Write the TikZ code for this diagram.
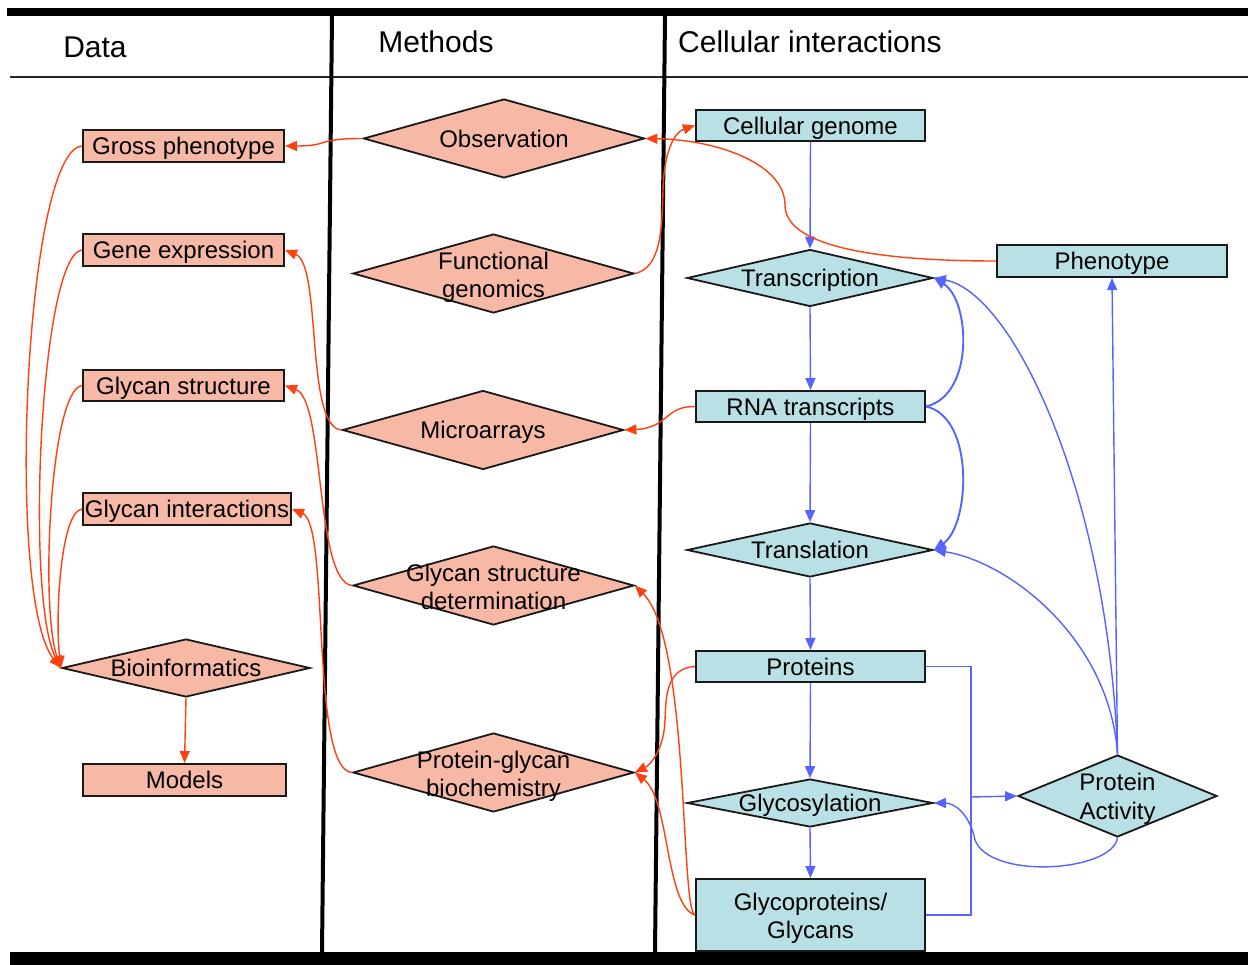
\documentclass[tikz,border=0pt]{standalone}
\usepackage{fontspec}
\setmainfont{Liberation Sans}
\usetikzlibrary{arrows.meta,shapes.geometric}
\definecolor{pinkfill}{RGB}{247,185,166}
\definecolor{bluefill}{RGB}{185,224,228}
\definecolor{redline}{RGB}{255,64,16}
\definecolor{blueline}{RGB}{85,100,255}
\definecolor{edge}{RGB}{25,25,25}
\begin{document}
\begin{tikzpicture}[x=1pt,y=-1pt,
  every node/.style={font=\fontsize{24}{28.5}\selectfont},
  hdr/.style={font=\fontsize{30}{36}\selectfont, inner sep=0pt},
  fixt/.style={text height=20.5pt, text depth=3pt},
  box/.style={rectangle, draw=edge, line width=2pt, inner sep=0pt, minimum height=32, fixt},
  pinkbox/.style={box, fill=pinkfill},
  bluebox/.style={box, fill=bluefill},
  dia/.style={diamond, draw=edge, line width=1.8pt, inner sep=0pt},
  pinkdia/.style={dia, fill=pinkfill, minimum width=281, minimum height=79},
  bluedia/.style={dia, fill=bluefill},
  tip/.style={-{Triangle[length=12pt,width=10pt]}},
  redarr/.style={draw=redline, line width=1.4pt, tip},
  bluearr/.style={draw=blueline, line width=1.4pt, tip},
  bluethick/.style={draw=blueline, line width=1.9pt, tip},
  blueplain/.style={draw=blueline, line width=1.4pt},
  sep/.style={line width=4pt, draw=black}
]
\useasboundingbox (0,0) rectangle (1248,965);
\fill[white] (0,0) rectangle (1248,965);

% frame
\fill[black] (7,8) rectangle (1248,16);
\fill[black] (10,952) rectangle (1248,965);
\draw[line width=2.5pt, draw=black!85] (10,77) -- (1248,77);
\draw[sep] (332,16) -- (322,952);
\draw[sep] (665,16) -- (655,952);

% headers
\node[hdr] (hdata) at (95,47) {Data};
\node[hdr] (hmeth) at (436,42) {Methods};
\node[hdr, anchor=west] (hcell) at (678,42) {Cellular interactions};

% data column
\node[pinkbox, minimum width=201] (gross) at (183.5,146) {Gross phenotype};
\node[pinkbox, minimum width=201] (geneexp) at (183.5,250) {Gene expression};
\node[pinkbox, minimum width=201, minimum height=31] (glystruct) at (183.5,385.5) {Glycan structure};
\node[pinkbox, minimum width=208] (glyint) at (187,509) {Glycan interactions};
\node[dia, fill=pinkfill, minimum width=248, minimum height=58,
      label={[fixt]center:Bioinformatics}] (bioinf) at (186,668) {};
\node[pinkbox, minimum width=203] (models) at (184.5,780) {Models};

% methods column
\node[pinkdia, label={[fixt]center:Observation}] (obs) at (504,138.5) {};
\node[pinkdia, label={[align=center, yshift=-4pt]center:Functional\\genomics}] (funcgen) at (493.5,273.5) {};
\node[pinkdia, label={[fixt]center:Microarrays}] (micro) at (483,430) {};
\node[pinkdia, label={[align=center, yshift=-1.5pt]center:Glycan structure\\determination}] (gsd) at (493.5,585.5) {};
\node[pinkdia, label={[align=center, yshift=-4pt]center:Protein-glycan\\biochemistry}] (pgb) at (493.5,772.5) {};

% cellular column
\node[bluebox, minimum width=229, minimum height=31] (genome) at (810.5,125.5) {Cellular genome};
\node[bluedia, minimum width=246, minimum height=57,
      label={[fixt]center:Transcription}] (transc) at (810,278) {};
\node[bluebox, minimum width=230] (pheno) at (1112,261) {Phenotype};
\node[bluebox, minimum width=229, minimum height=31] (rna) at (810.5,406.5) {RNA transcripts};
\node[bluedia, minimum width=246, minimum height=54,
      label={[fixt]center:Translation}] (transl) at (810,550) {};
\node[bluebox, minimum width=229, minimum height=31] (prot) at (810.5,666.5) {Proteins};
\node[bluedia, minimum width=246, minimum height=48,
      label={[fixt]center:Glycosylation}] (glycos) at (810,803) {};
\node[rectangle, draw=edge, line width=2pt, fill=bluefill, inner sep=0pt,
      minimum width=229, minimum height=72,
      label={[align=center, yshift=-3.5pt]center:Glycoproteins/\\Glycans}] (glycop) at (810.5,915) {};
\node[bluedia, minimum width=199, minimum height=82,
      label={[align=center, yshift=-3pt]center:Protein\\Activity}] (pa) at (1117.5,796) {};

% blue connectors
\draw[bluearr] (genome.south) -- (transc.north);
\draw[bluearr] (transc.south) -- (rna.north);
\draw[bluearr] (rna.south) -- (transl.north);
\draw[bluearr] (transl.south) -- (prot.north);
\draw[bluearr] (prot.south) -- (glycos.north);
\draw[bluearr] (glycos.south) -- (glycop.north);
\draw[bluearr] (pa.north) -- (pheno.south);
\draw[bluethick] (rna.east) .. controls (975,395) and (970,300) .. (transc.east);
\draw[bluethick] (rna.east) .. controls (975,417) and (970,525) .. (transl.east);
\draw[bluearr] (pa.north) .. controls (1108,490) and (1012,292) .. (transc.east);
\draw[bluearr] (pa.north) .. controls (1110,640) and (1010,562) .. (transl.east);
\draw[bluearr] (pa.south) .. controls (1112,872) and (990,880) .. (975,840)
                          .. controls (970,815) and (955,803) .. (glycos.east);
\coordinate (j) at (971,797);
\draw[blueplain] (prot.east) -| (j);
\draw[blueplain] (glycop.east) -| (j);
\draw[bluearr] (j) -- (pa.west);

% red connectors
\draw[redarr] (obs.west) .. controls (315,138.5) and (330,146) .. (gross.east);
\draw[redarr] (pheno.west) .. controls (870,261) and (785,245) .. (785,205)
                           .. controls (785,165) and (720,140) .. (obs.east);
\draw[redarr] (funcgen.east) .. controls (662,268) and (662,225) .. (663,190)
                             .. controls (664,150) and (675,132) .. (genome.west);
\draw[redarr] (rna.west) .. controls (665,406) and (668,428) .. (micro.east);
\draw[redarr] (micro.west) .. controls (305,428) and (322,265) .. (geneexp.east);
\draw[redarr] (gsd.west) .. controls (315,582) and (325,400) .. (glystruct.east);
\draw[redarr] (pgb.west) .. controls (310,770) and (330,525) .. (glyint.east);
\draw[redarr] (prot.west) .. controls (665,668) and (666,700) .. (665,720)
                          .. controls (664,750) and (650,765) .. (pgb.east);
\draw[redarr] (glycop.west) .. controls (680,910) and (690,640) .. (gsd.east);
\draw[redarr] (glycop.west) .. controls (665,905) and (670,800) .. (pgb.east);
\draw[redarr] (gross.west) .. controls (25,150) and (5,600) .. (bioinf.west);
\draw[redarr] (geneexp.west) .. controls (40,255) and (25,600) .. (bioinf.west);
\draw[redarr] (glystruct.west) .. controls (50,390) and (40,610) .. (bioinf.west);
\draw[redarr] (glyint.west) .. controls (60,512) and (55,620) .. (bioinf.west);
\draw[redarr] (bioinf.south) -- (models.north);
\end{tikzpicture}
\end{document}
